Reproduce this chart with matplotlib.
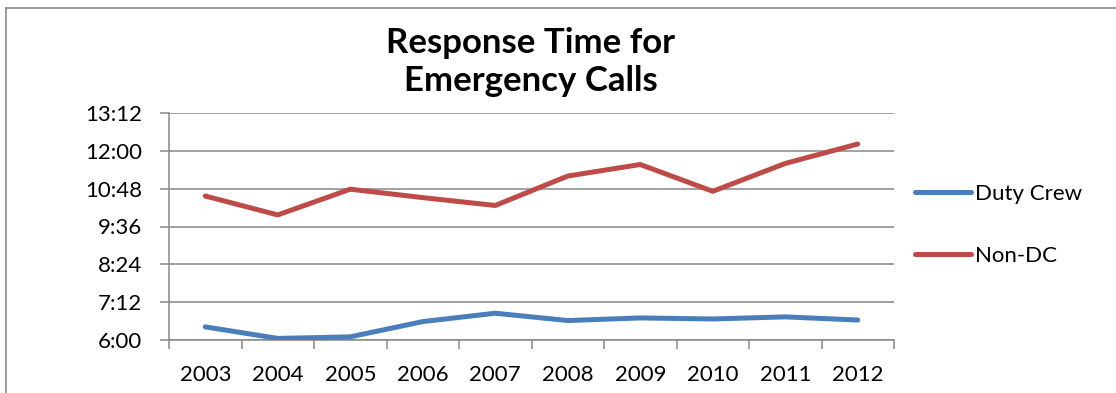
import matplotlib

matplotlib.use("Agg")
import matplotlib.pyplot as plt
from matplotlib.lines import Line2D
from matplotlib.ticker import FixedLocator, FuncFormatter

years = ["2003", "2004", "2005", "2006", "2007", "2008", "2009", "2010", "2011", "2012"]
duty_crew = ["6:25", "6:03", "6:06", "6:35", "6:51", "6:37", "6:42", "6:40", "6:44", "6:38"]
non_dc = ["10:34", "9:58", "10:47", "10:31", "10:16", "11:12", "11:34", "10:43", "11:36", "12:13"]
y_ticks = ["6:00", "7:12", "8:24", "9:36", "10:48", "12:00", "13:12"]

BLUE = "#4a7ebb"
RED = "#be4b48"
GRID = "#878787"


def to_seconds(text: str) -> int:
    minutes, seconds = text.split(":")
    return int(minutes) * 60 + int(seconds)


def fmt_time(value: float, _pos=None) -> str:
    value = int(round(value))
    return f"{value // 60}:{value % 60:02d}"


def main() -> None:
    plt.rcParams["font.family"] = ["Lato", "DejaVu Sans"]
    fig = plt.figure(figsize=(11.16, 3.93), dpi=100)
    ax = fig.add_axes([169 / 1116, 1 - 340 / 393, (894 - 169) / 1116, (340 - 113) / 393])

    x = list(range(len(years)))
    ax.plot(x, [to_seconds(v) for v in duty_crew], color=BLUE, lw=3.6,
            solid_capstyle="round", solid_joinstyle="round", label="Duty Crew", zorder=3)
    ax.plot(x, [to_seconds(v) for v in non_dc], color=RED, lw=3.6,
            solid_capstyle="round", solid_joinstyle="round", label="Non-DC", zorder=3)

    ticks = [to_seconds(t) for t in y_ticks]
    ax.set_ylim(ticks[0], ticks[-1])
    ax.set_yticks(ticks)
    ax.yaxis.set_major_formatter(FuncFormatter(fmt_time))
    ax.grid(axis="y", color=GRID, lw=1.1)
    ax.set_axisbelow(True)

    # category labels sit between the tick marks
    ax.set_xlim(-0.5, len(years) - 0.5)
    ax.xaxis.set_major_locator(FixedLocator([i - 0.5 for i in range(len(years) + 1)]))
    ax.xaxis.set_major_formatter(FuncFormatter(lambda v, p: ""))
    ax.xaxis.set_minor_locator(FixedLocator(x))
    ax.set_xticklabels(years, minor=True)

    for side in ("top", "right"):
        ax.spines[side].set_visible(False)
    for side in ("left", "bottom"):
        ax.spines[side].set_color(GRID)
        ax.spines[side].set_linewidth(1.1)
    ax.tick_params(axis="y", which="major", length=6.5, width=1.1, color=GRID,
                   labelsize=16, pad=13)
    ax.tick_params(axis="x", which="major", length=6.5, width=1.1, color=GRID, direction="out")
    ax.tick_params(axis="x", which="minor", length=0, labelsize=16, pad=18)

    fig.text(531 / 1116, 1 - 62 / 393, "Response Time for\nEmergency Calls",
             ha="center", va="center", fontsize=25, fontweight="bold", linespacing=1.22)

    ax.legend(loc="center left", bbox_to_anchor=(915 / 1116, 1 - 225 / 393),
              bbox_transform=fig.transFigure, frameon=False, fontsize=16,
              handlelength=2.5, handletextpad=0.2, labelspacing=1.9,
              borderpad=0, borderaxespad=0)

    # chart area border along the left and top edges
    fig.add_artist(Line2D([6 / 1116, 6 / 1116], [0, 1 - 8 / 393], color=GRID, lw=1.2,
                          transform=fig.transFigure))
    fig.add_artist(Line2D([6 / 1116, 1], [1 - 8 / 393, 1 - 8 / 393], color=GRID, lw=1.2,
                          transform=fig.transFigure))

    fig.savefig("out.png", dpi=100)


if __name__ == "__main__":
    main()
